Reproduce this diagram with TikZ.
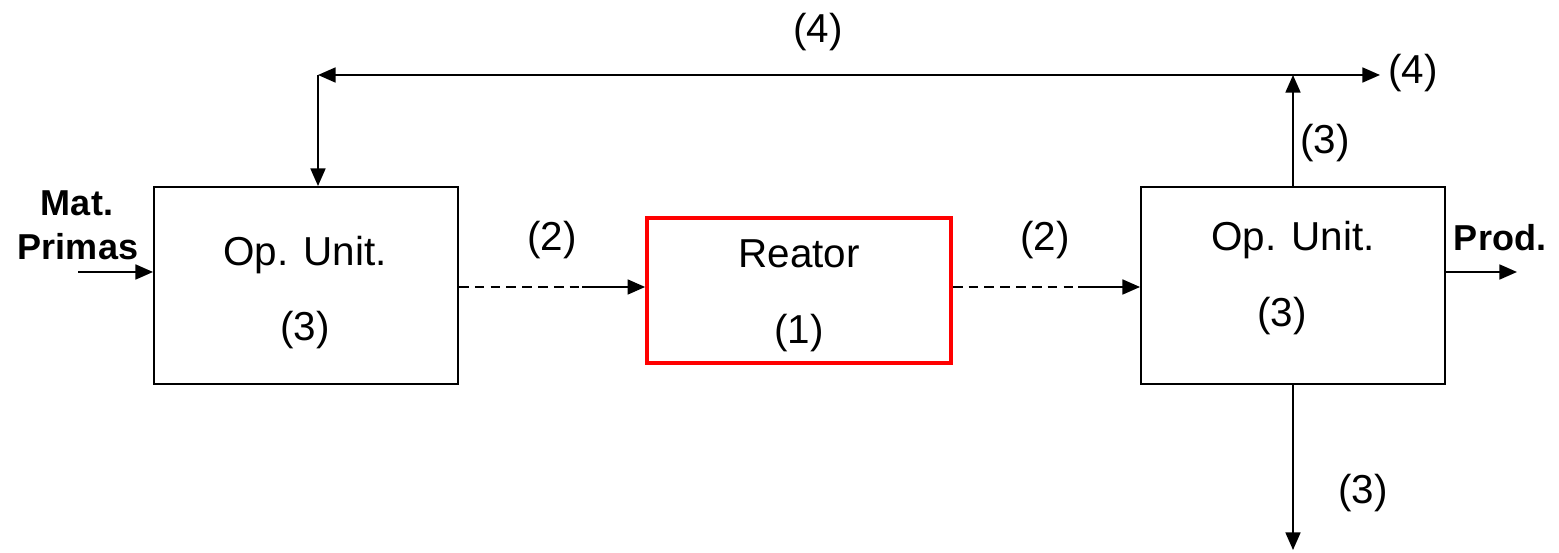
\documentclass[tikz,border=0pt]{standalone}
\usepackage{fontspec}
\setmainfont{Liberation Sans}
\usetikzlibrary{arrows.meta,calc}

\begin{document}
\begin{tikzpicture}[x=0.02cm,y=-0.02cm,
  tip/.tip={Triangle[length=10pt,width=8.5pt]},
  flow/.style={line width=1.1pt,-tip},
  plain/.style={line width=1.1pt},
  dashline/.style={line width=1.1pt,dash pattern=on 5.5pt off 3.5pt},
  unitbox/.style={draw,line width=1.1pt,minimum width=304*0.02cm,minimum height=197*0.02cm,inner sep=0pt},
  reactbox/.style={draw=red,line width=2.1pt,minimum width=304*0.02cm,minimum height=145*0.02cm,inner sep=0pt},
  lbl/.style={font=\fontsize{23}{27}\selectfont,inner sep=0pt},
  bold/.style={font=\fontsize{20.5}{24}\selectfont\bfseries,inner sep=0pt}]

\useasboundingbox (0,0) rectangle (1559,553);

% process blocks
\node[unitbox]  (lb) at (306,285.5) {};
\node[reactbox] (rx) at (799,290.5) {};
\node[unitbox]  (rb) at (1293,285.5) {};

% block texts
\node[lbl] (lbA) at (305,255) {Op. Unit.};
\node[lbl] (lbB) at (305,330) {(3)};
\node[lbl] (rxA) at (799,254) {Reator};
\node[lbl] (rxB) at (799,333) {(1)};
\node[lbl] (rbA) at (1293,240) {Op. Unit.};
\node[lbl] (rbB) at (1282,316) {(3)};

% stream labels
\node[bold] (mat) at (77,203) {Mat.};
\node[bold] (pri) at (78,247) {Primas};
\node[bold] (prod) at (1500,238) {Prod.};
\node[lbl] (s2a) at (552,240) {(2)};
\node[lbl] (s2b) at (1045,240) {(2)};
\node[lbl] (s4a) at (818,32) {(4)};
\node[lbl] (s4b) at (1413,73) {(4)};
\node[lbl] (s3a) at (1325,143) {(3)};
\node[lbl] (s3b) at (1363,493) {(3)};

% auxiliary points
\coordinate (feed) at (78,272);
\coordinate (d1) at (582,287);
\coordinate (d2) at (1078,287);
\coordinate (tl) at (318,75);
\coordinate (tr) at (1293,75);
\coordinate (o4) at (1380,75);
\coordinate (po) at (1517,272);
\coordinate (bo) at (1293,550);

% feed and product
\draw[flow] (feed) -- (feed -| lb.west);
\draw[flow] (rb.east |- po) -- (po);

% connections through the reactor
\draw[dashline] (lb.east |- d1) -- (d1);
\draw[flow] (d1) -- (d1 -| rx.west);
\draw[dashline] (rx.east |- d2) -- (d2);
\draw[flow] (d2) -- (d2 -| rb.west);

% recycle loop and side streams
\draw[flow] (rb.north) -- (tr);
\draw[plain,tip-tip] (tl) -- (o4);
\draw[flow] (tl) -- (tl |- lb.north);
\draw[flow] (rb.south) -- (bo);
\end{tikzpicture}
\end{document}
